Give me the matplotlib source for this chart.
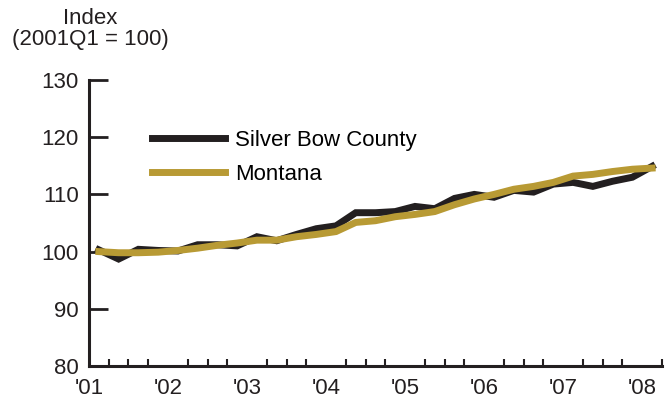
import numpy as np
import matplotlib
matplotlib.use('Agg')
import matplotlib.pyplot as plt

plt.rcParams['font.family'] = ['Liberation Sans', 'DejaVu Sans']

# quarterly index, 2001Q1 .. 2008Q1
start_year = 2001
silver_bow = [100.3, 98.7, 100.4, 100.2, 100.1, 101.2, 101.2, 101.0, 102.6, 101.9,
              103.0, 104.0, 104.5, 106.8, 106.8, 107.0, 107.9, 107.5, 109.3, 110.0,
              109.5, 110.7, 110.4, 111.8, 112.1, 111.4, 112.3, 113.0, 114.9]
montana = [100.0, 99.8, 99.8, 99.9, 100.2, 100.6, 101.1, 101.5, 102.0, 102.0,
           102.6, 103.0, 103.5, 105.1, 105.4, 106.1, 106.5, 107.0, 108.2, 109.2,
           110.0, 110.9, 111.4, 112.1, 113.2, 113.5, 114.0, 114.4, 114.6]
year_labels = ["'01", "'02", "'03", "'04", "'05", "'06", "'07", "'08"]
y_ticks = [80, 90, 100, 110, 120, 130]

# each quarter plotted at its midpoint
x = start_year + (np.arange(len(silver_bow)) + 0.5) / 4

fig = plt.figure(figsize=(6.67, 4.0), dpi=100)
ax = fig.add_axes([0.1334, 0.085, 0.8591, 0.715])

ax.plot(x, silver_bow, color='#231f20', lw=5, solid_joinstyle='miter', label='Silver Bow County')
ax.plot(x, montana, color='#b89a34', lw=5, solid_joinstyle='miter', label='Montana')

ax.set_xlim(start_year, start_year + len(silver_bow) / 4)
ax.set_ylim(80, 130)
ax.set_yticks(y_ticks)
ax.set_xticks(np.arange(len(year_labels)) + start_year)
ax.set_xticklabels(year_labels)
ax.set_xticks(start_year + np.arange(len(silver_bow) + 1) / 4, minor=True)

for s in ['top', 'right']:
    ax.spines[s].set_visible(False)
for s in ['left', 'bottom']:
    ax.spines[s].set_linewidth(2.2)
    ax.spines[s].set_color('#231f20')

ax.tick_params(axis='y', direction='in', length=14, width=2, labelsize=16, pad=7.5, colors='#231f20')
ax.tick_params(axis='x', which='major', direction='in', length=0, labelsize=16, pad=9, colors='#231f20')
ax.tick_params(axis='x', which='minor', direction='in', length=5, width=1.5, colors='#231f20')

fig.text(0.135, 0.955, 'Index', fontsize=16, ha='center', va='center', color='#231f20')
fig.text(0.135, 0.9, '(2001Q1 = 100)', fontsize=16, ha='center', va='center', color='#231f20')

ax.legend(loc='upper left', bbox_to_anchor=(0.11, 0.825), frameon=False, fontsize=16,
          borderpad=0, borderaxespad=0,
          handlelength=3.3, handletextpad=0.45, labelspacing=0.58)

fig.savefig('out.png', dpi=100)
